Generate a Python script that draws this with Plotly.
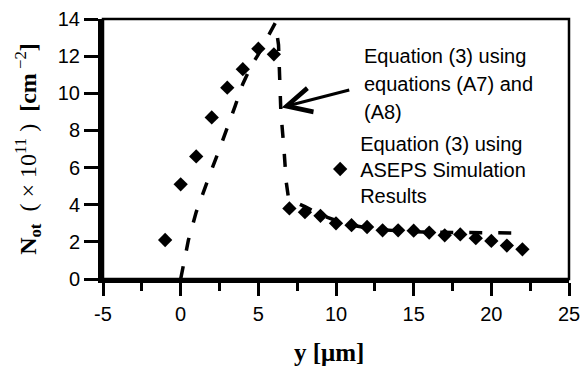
import plotly.graph_objects as go

# ---- data ----
# Equation (3) using ASEPS simulation results (diamonds)
sim_y = [-1, 0, 1, 2, 3, 4, 5, 6, 7, 8, 9, 10, 11, 12, 13, 14, 15, 16, 17, 18, 19, 20, 21, 22]
sim_not = [2.1, 5.1, 6.6, 8.7, 10.3, 11.3, 12.4, 12.1, 3.8, 3.6, 3.4, 3.0, 2.9, 2.8, 2.62,
           2.62, 2.6, 2.5, 2.35, 2.4, 2.2, 2.05, 1.8, 1.6]

# Equation (3) using equations (A7) and (A8) (dashed curve)
eq_y = [0.0, 0.2, 0.5, 1.0, 1.5, 2.0, 2.5, 3.0, 3.5, 4.0, 4.5, 5.0, 5.5, 6.1,
        6.3, 6.45, 6.65, 6.8, 6.95, 7.5, 8.0, 9.0, 10.0, 11.0, 12.0, 13.0, 14.0,
        15.0, 16.0, 18.0, 20.0, 22.3]
eq_not = [0.0, 0.8, 2.1, 3.6, 4.8, 5.9, 7.0, 8.1, 9.3, 10.5, 11.4, 12.1, 12.9, 13.8,
          12.6, 9.0, 7.0, 5.2, 4.3, 4.1, 3.9, 3.45, 3.15, 2.9, 2.75, 2.65, 2.58,
          2.54, 2.52, 2.5, 2.48, 2.47]

x_ticks = [-5, 0, 5, 10, 15, 20, 25]
y_ticks = [0, 2, 4, 6, 8, 10, 12, 14]

label_eq = ["Equation (3) using", "equations (A7) and", "(A8)"]
label_sim = "Equation (3) using<br>ASEPS Simulation<br>Results"
x_title = "<b>y [μm]</b>"
y_title = "<b>N</b><sub><b>ot</b></sub>  ( × 10<sup>11</sup> )  <b>[cm</b><sup> −2</sup><b>]</b>"

SANS = "Liberation Sans, Arial, Helvetica, sans-serif"
SERIF = "Liberation Serif, Times New Roman, serif"

fig = go.Figure()
fig.add_trace(go.Scatter(
    x=eq_y, y=eq_not, mode="lines", showlegend=False,
    line=dict(color="black", width=3.5, dash="13px,16px"),
))
fig.add_trace(go.Scatter(
    x=sim_y, y=sim_not, mode="markers", name=label_sim, showlegend=True,
    marker=dict(symbol="diamond", size=11, color="black"),
))

# label lines for the dashed curve
line_y = [12.03, 10.51, 8.99]
for txt, yy in zip(label_eq, line_y):
    fig.add_annotation(x=11.69, y=yy, xref="x", yref="y", text=txt, showarrow=False,
                       xanchor="left", yanchor="middle",
                       font=dict(family=SANS, size=20, color="black"))

# arrow pointing to the dashed curve
fig.add_annotation(x=6.5, y=9.24, ax=10.95, ay=10.2, axref="x", ayref="y",
                   xref="x", yref="y", text="", showarrow=True,
                   arrowhead=5, arrowwidth=3, arrowsize=1.6, arrowcolor="black",
                   standoff=0, startstandoff=0)

# x-axis title
fig.add_annotation(x=0.485, y=-0.281, xref="paper", yref="paper", text=x_title,
                   showarrow=False, xanchor="center", yanchor="middle",
                   font=dict(family=SERIF, size=25, color="black"))

fig.update_layout(
    width=580, height=363,
    margin=dict(l=95, r=19, t=11, b=92, autoexpand=False),
    paper_bgcolor="white", plot_bgcolor="white",
    font=dict(family=SANS, size=20, color="black"),
    showlegend=True,
    legend=dict(x=0.466, y=0.598, xanchor="left", yanchor="top",
                bgcolor="rgba(0,0,0,0)", borderwidth=0,
                font=dict(family=SANS, size=20, color="black"),
                valign="middle"),
    xaxis=dict(
        range=[-5, 25], tickvals=x_ticks, ticktext=[str(v) for v in x_ticks],
        automargin=False,
        showgrid=False, zeroline=False, showline=True, linewidth=4, linecolor="black",
        ticks="outside", ticklen=13, tickwidth=2.5, tickcolor="black",
        ticklabelstandoff=1,
        minor=dict(dtick=2.5, tick0=0, ticks="outside", ticklen=8, tickwidth=2.5,
                   tickcolor="black", showgrid=False),
    ),
    yaxis=dict(
        range=[0, 14], tickvals=y_ticks, ticktext=[str(v) for v in y_ticks],
        automargin=False,
        showgrid=False, zeroline=False, showline=True, linewidth=5, linecolor="black",
        ticks="outside", ticklen=14, tickwidth=2.5, tickcolor="black",
        title=dict(text=y_title, font=dict(family=SERIF, size=24), standoff=16),
    ),
    shapes=[dict(type="rect", xref="paper", yref="paper", x0=0, y0=0, x1=1, y1=1,
                 line=dict(color="black", width=2.5), fillcolor="rgba(0,0,0,0)", layer="above")],
)

fig.write_html("out.html")
